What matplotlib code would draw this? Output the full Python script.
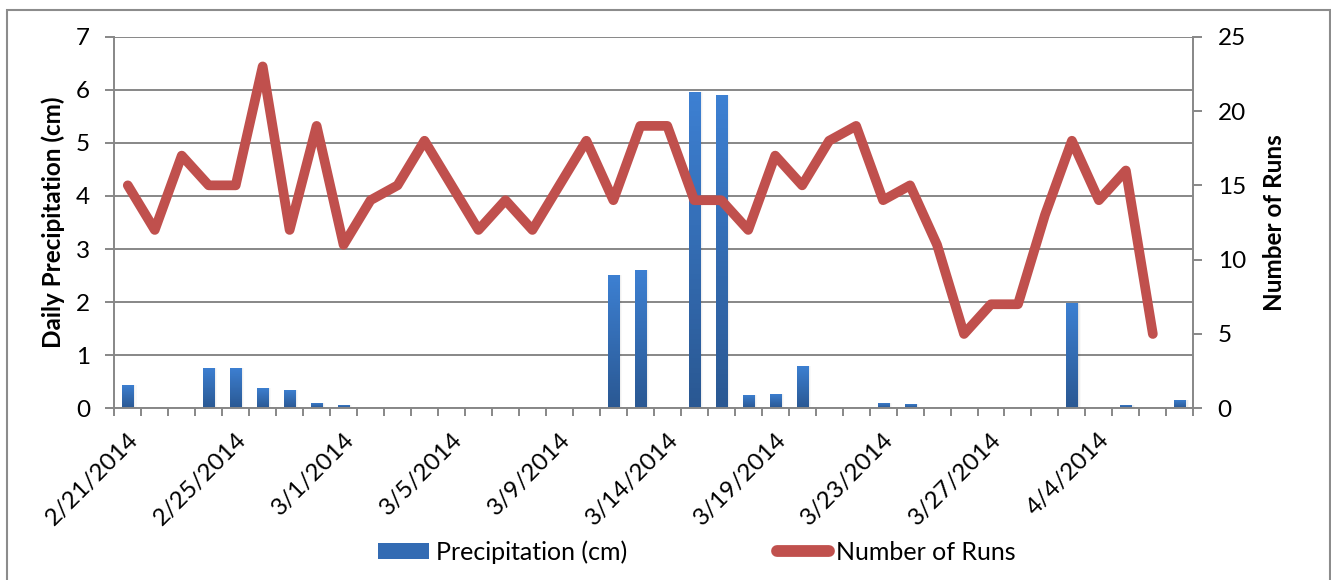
import numpy as np
import matplotlib
matplotlib.use("Agg")
import matplotlib.pyplot as plt
from matplotlib.patches import Rectangle, Patch
from matplotlib.lines import Line2D
from matplotlib.colors import LinearSegmentedColormap

plt.rcParams['font.family'] = ['Lato', 'DejaVu Sans']

dates = ['2/21/2014', '2/22/2014', '2/23/2014', '2/24/2014', '2/25/2014',
         '2/26/2014', '2/27/2014', '2/28/2014', '3/1/2014', '3/2/2014',
         '3/3/2014', '3/4/2014', '3/5/2014', '3/6/2014', '3/7/2014',
         '3/8/2014', '3/9/2014', '3/10/2014', '3/11/2014', '3/12/2014',
         '3/14/2014', '3/15/2014', '3/16/2014', '3/17/2014', '3/19/2014',
         '3/20/2014', '3/21/2014', '3/22/2014', '3/23/2014', '3/24/2014',
         '3/25/2014', '3/26/2014', '3/27/2014', '3/29/2014', '3/31/2014',
         '4/2/2014', '4/4/2014', '4/5/2014', '4/6/2014', '4/7/2014']

precip_cm = [0.44, 0.01, 0, 0.76, 0.76, 0.38, 0.35, 0.10, 0.06, 0,
             0, 0, 0, 0, 0, 0, 0, 0, 2.51, 2.61,
             0, 5.96, 5.90, 0.25, 0.27, 0.80, 0, 0, 0.10, 0.08,
             0, 0, 0, 0, 0, 1.98, 0, 0.06, 0.01, 0.16]

runs = [15, 12, 17, 15, 15, 23, 12, 19, 11, 14,
        15, 18, 15, 12, 14, 12, 15, 18, 14, 19,
        19, 14, 14, 12, 17, 15, 18, 19, 14, 15,
        11, 5, 7, 7, 13, 18, 14, 16, 5]

W, H = 1331, 580
fig = plt.figure(figsize=(W / 100, H / 100), dpi=100)
fig.patch.set_facecolor('white')

# plot area in pixels: x 114..1193, y 37..408 (from top)
ax = fig.add_axes([114.3 / W, (H - 408.3) / H, 1079 / W, 371.6 / H])
ax2 = ax.twinx()

grey = '#878787'
bar_top, bar_bottom = '#3d80d2', '#2a5893'
line_red = '#C0504D'

x = np.arange(len(dates))

# bars with a vertical gradient clipped to each bar
bars = ax.bar(x, precip_cm, width=0.41, color='none', edgecolor='none', zorder=2)
grad = LinearSegmentedColormap.from_list('bargrad', [bar_bottom, bar_top])
ramp = np.linspace(0, 1, 64).reshape(-1, 1)
for b in bars:
    h = b.get_height()
    if h <= 0:
        continue
    x0 = b.get_x()
    w = b.get_width()
    # soft drop shadow
    for k, a in enumerate([0.06, 0.04, 0.025]):
        off = 0.04 * (k + 1)
        ax.add_patch(Rectangle((x0 + off * 0.6, 0), w + off * 0.4, h - off * 0.05,
                               facecolor='black', alpha=a, edgecolor='none', zorder=1.5))
    im = ax.imshow(ramp, cmap=grad, origin='lower', aspect='auto',
                   extent=[x0, x0 + w, 0, h], zorder=2.5)
    im.set_clip_path(b)

ax.set_xlim(-0.5, len(dates) - 0.5)
ax.set_ylim(0, 7)
ax.set_yticks(range(0, 8))
ax.yaxis.grid(True, color=grey, lw=1.4)
ax.set_axisbelow(True)

ax2.plot(np.arange(len(runs)), runs, color=line_red, lw=7,
         solid_capstyle='round', solid_joinstyle='round', zorder=3)
ax2.set_ylim(0, 25)
ax2.set_yticks(range(0, 30, 5))

for a in (ax, ax2):
    a.spines['top'].set_visible(False)
    for s in ('left', 'right', 'bottom'):
        a.spines[s].set_color(grey)
        a.spines[s].set_linewidth(1.4)
ax2.spines['left'].set_visible(False)
ax2.spines['bottom'].set_visible(False)
ax.spines['right'].set_visible(False)

fs = 17.5
ax.tick_params(axis='y', length=6.5, width=1.4, color=grey, pad=11,
               labelsize=fs, labelcolor='black')
ax2.tick_params(axis='y', length=6.5, width=1.4, color=grey, pad=11,
                labelsize=fs, labelcolor='black')

# category labels every 4th day, tick marks on category boundaries
ax.set_xticks(x[::4])
ax.set_xticklabels(dates[::4], rotation=45, ha='right', va='top',
                   rotation_mode='anchor', fontsize=fs)
ax.set_xticks(np.arange(-0.5, len(dates), 1), minor=True)
ax.tick_params(axis='x', which='major', length=0, pad=15)
ax.tick_params(axis='x', which='minor', length=6, width=1.4, color=grey)

ax.set_ylabel('Daily Precipitation (cm)', fontsize=17.5, fontweight='bold')
ax.yaxis.set_label_coords((53 - 114.3) / 1079, 0.5)
ax.yaxis.label.set_va('center')
ax2.set_ylabel('Number of Runs', fontsize=17.5, fontweight='bold', rotation=90)
ax2.yaxis.set_label_coords((1274 - 114.3) / 1079, 0.5)
ax2.yaxis.label.set_va('center')

handles = [Patch(facecolor='#336bb3', edgecolor='none'),
           Line2D([0], [0], color=line_red, lw=8.5, solid_capstyle='round')]
fig.legend(handles, ['Precipitation (cm)', 'Number of Runs'],
           loc='center', bbox_to_anchor=(696.5 / W, 28 / H), ncol=2,
           frameon=False, fontsize=18, handlelength=2.05, handleheight=0.6,
           handletextpad=0.28, columnspacing=6.0)

# outer chart border
fig.add_artist(Rectangle((6.5 / W, -0.02), (1329.5 - 6.5) / W, 0.02 + (H - 10) / H,
                         transform=fig.transFigure, fill=False,
                         edgecolor='#8c8c8c', lw=1.5))

fig.savefig('out.png', dpi=100)
